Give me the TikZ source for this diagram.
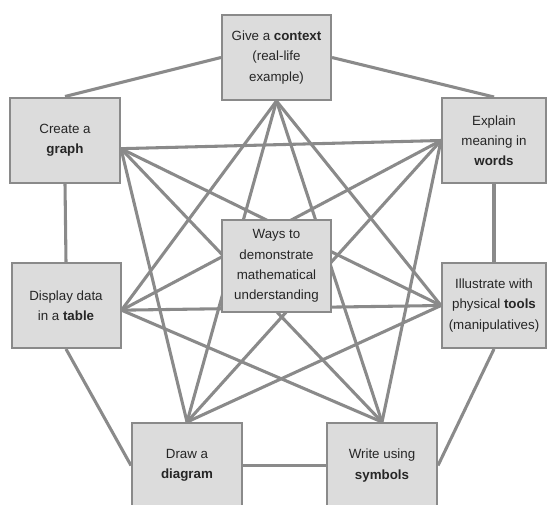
\documentclass[tikz,border=0pt]{standalone}
\usepackage{fontspec}
\setmainfont{Liberation Sans}
\usetikzlibrary{backgrounds}
\definecolor{boxfill}{HTML}{DCDCDC}
\definecolor{boxline}{HTML}{8A8A8A}
\definecolor{linkline}{HTML}{8A8A8A}

\begin{document}
\begin{tikzpicture}[x=0.75pt,y=-0.75pt,
    box/.style={draw=boxline,line width=1.5pt,fill=boxfill,align=center,
      minimum width=81.75pt,minimum height=63.75pt,inner sep=2pt,
      font=\fontsize{10}{15.2}\selectfont,text=black!85},
    link/.style={draw=linkline,line width=2.3pt}]
  \useasboundingbox (0,0) rectangle (548,504);
  % Kaesten
  \node[box] (context) at (276.5,57.5) {Give a \textbf{context}\\(real-life\\example)};
  \node[box,minimum width=82.5pt] (graph) at (65,140) {Create a\\\textbf{graph}};
  \node[box,minimum width=78pt] (words) at (494,140.5) {Explain\\meaning in\\\textbf{words}};
  \node[box] (table) at (66,305.5) {Display data\\in a \textbf{table}};
  \node[box,minimum width=78pt] (tools) at (494,305.5) {Illustrate with\\physical \textbf{tools}\\(manipulatives)};
  \node[box,minimum height=69pt] (center) at (276.5,266) {Ways to\\demonstrate\\mathematical\\understanding};
  \node[box,minimum width=82.5pt] (diagram) at (187,465.5) {Draw a\\\textbf{diagram}};
  \node[box,minimum width=82.5pt] (symbols) at (382,465.5) {Write using\\\textbf{symbols}};
  % Ansatzpunkte
  \coordinate (graphR) at ([yshift=-6.5pt]graph.east);
  \coordinate (tableR) at ([yshift=-3.5pt]table.east);
  \begin{pgfonlayer}{background}
    % Rand
    \draw[link] (context.west) -- (graph.north);
    \draw[link] (context.east) -- (words.north);
    \draw[link] (graph.south) -- (table.north);
    \draw[link] (words.south) -- (tools.north);
    \draw[link] (table.south) -- (diagram.west);
    \draw[link] (tools.south) -- (symbols.east);
    \draw[link] (diagram.east) -- (symbols.west);
    % Stern
    \draw[link] (context.south) -- (tools.west);
    \draw[link] (context.south) -- (symbols.north);
    \draw[link] (context.south) -- (diagram.north);
    \draw[link] (context.south) -- (tableR);
    \draw[link] (words.west) -- (symbols.north);
    \draw[link] (words.west) -- (diagram.north);
    \draw[link] (words.west) -- (tableR);
    \draw[link] (words.west) -- (graphR);
    \draw[link] (tools.west) -- (diagram.north);
    \draw[link] (tools.west) -- (tableR);
    \draw[link] (tools.west) -- (graphR);
    \draw[link] (symbols.north) -- (tableR);
    \draw[link] (symbols.north) -- (graphR);
    \draw[link] (diagram.north) -- (graphR);
  \end{pgfonlayer}
\end{tikzpicture}
\end{document}
